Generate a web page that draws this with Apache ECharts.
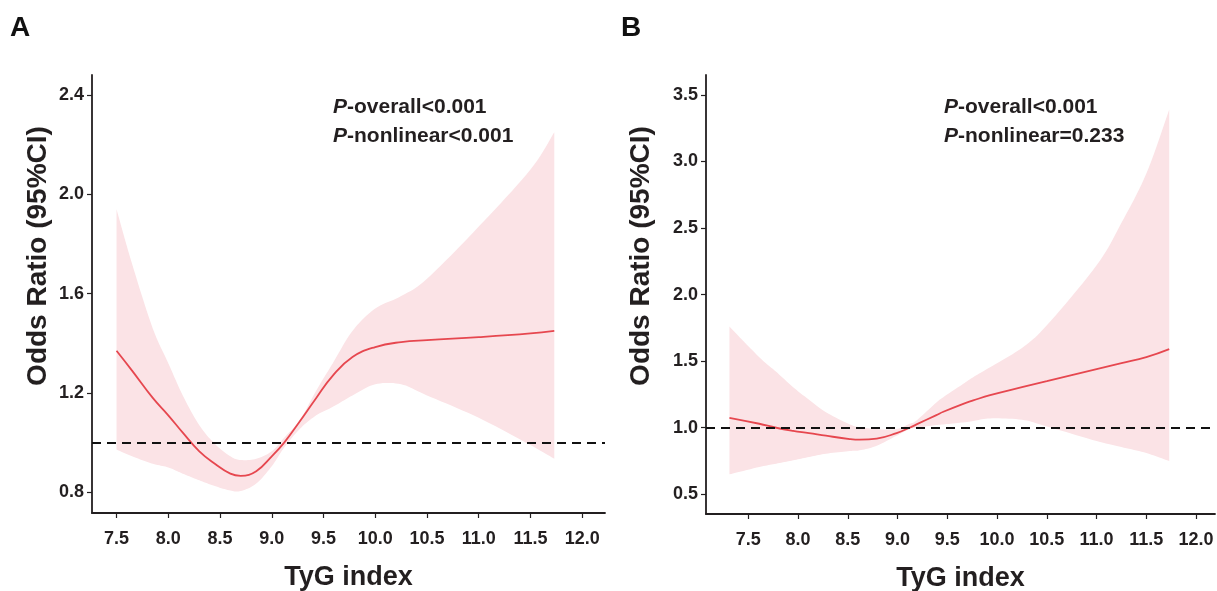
<!DOCTYPE html>
<html>
<head>
<meta charset="utf-8">
<script src="https://cdn.jsdelivr.net/npm/echarts@6/dist/echarts.min.js"></script>
<style>
  html, body { margin: 0; padding: 0; background: #fff; }
  #main { width: 1217px; height: 591px; }
</style>
</head>
<body>
<div id="main"></div>
<script>
// panel A: TyG index vs odds ratio
var xA = [7.5, 7.65, 7.85, 8.0, 8.14, 8.3, 8.45, 8.6, 8.7, 8.85, 9.0, 9.12, 9.27, 9.43, 9.59, 9.78, 10.0, 10.25, 10.5, 11.0, 11.5, 11.73];
var orA = [1.37, 1.29, 1.18, 1.11, 1.04, 0.965, 0.915, 0.875, 0.866, 0.885, 0.945, 1.0, 1.085, 1.18, 1.27, 1.345, 1.385, 1.405, 1.413, 1.425, 1.44, 1.45];
var upA = [1.94, 1.72, 1.46, 1.32, 1.19, 1.07, 0.995, 0.945, 0.93, 0.935, 0.965, 1.02, 1.09, 1.21, 1.32, 1.45, 1.54, 1.59, 1.66, 1.87, 2.10, 2.25];
var loA = [0.972, 0.945, 0.915, 0.9, 0.875, 0.848, 0.825, 0.807, 0.805, 0.835, 0.905, 0.98, 1.055, 1.11, 1.144, 1.19, 1.235, 1.235, 1.19, 1.1, 0.99, 0.935];

// panel B
var xB = [7.31, 7.61, 7.78, 7.95, 8.11, 8.28, 8.52, 8.62, 8.79, 8.99, 9.12, 9.19, 9.39, 9.46, 9.66, 9.76, 9.93, 10.25, 10.5, 11.0, 11.25, 11.5, 11.73];
var orB = [1.075, 1.03, 1.0, 0.977, 0.96, 0.94, 0.915, 0.91, 0.918, 0.96, 1.0, 1.025, 1.095, 1.12, 1.18, 1.205, 1.245, 1.305, 1.35, 1.44, 1.485, 1.53, 1.59];
var upB = [1.76, 1.53, 1.42, 1.305, 1.21, 1.117, 1.025, 1.005, 0.99, 0.99, 1.03, 1.055, 1.19, 1.23, 1.33, 1.38, 1.455, 1.6, 1.77, 2.22, 2.54, 2.91, 3.39];
var loB = [0.65, 0.705, 0.73, 0.755, 0.78, 0.805, 0.825, 0.83, 0.865, 0.94, 0.99, 1.0, 1.02, 1.025, 1.04, 1.05, 1.07, 1.06, 1.01, 0.9, 0.855, 0.81, 0.75];

var xTicks = [7.5, 8.0, 8.5, 9.0, 9.5, 10.0, 10.5, 11.0, 11.5, 12.0];
var yTicksA = [0.8, 1.2, 1.6, 2.0, 2.4];
var yTicksB = [0.5, 1.0, 1.5, 2.0, 2.5, 3.0, 3.5];

var font = 'Liberation Sans, Arial, sans-serif';
var ink = '#231f20';
var red = '#e6474f';
var pink = '#fbe3e6';

function pairs(xs, ys) {
    return xs.map(function (x, i) { return [x, ys[i]]; });
}

// catmull-rom through pixel points, so the band edges are smooth like the line
function spline(pts) {
    var out = [pts[0]];
    for (var i = 0; i < pts.length - 1; i++) {
        var p0 = pts[i - 1] || pts[i], p1 = pts[i], p2 = pts[i + 1], p3 = pts[i + 2] || pts[i + 1];
        for (var k = 1; k <= 10; k++) {
            var t = k / 10, t2 = t * t, t3 = t2 * t;
            var pt = [0, 1].map(function (d) {
                return 0.5 * ((2 * p1[d]) + (-p0[d] + p2[d]) * t +
                    (2 * p0[d] - 5 * p1[d] + 4 * p2[d] - p3[d]) * t2 +
                    (-p0[d] + 3 * p1[d] - 3 * p2[d] + p3[d]) * t3);
            });
            out.push(pt);
        }
    }
    return out;
}

function bandRender(xs, up, lo) {
    return function (params, api) {
        if (params.dataIndex !== 0) return;
        var top = xs.map(function (x, i) { return api.coord([x, up[i]]); });
        var bot = xs.map(function (x, i) { return api.coord([x, lo[i]]); }).reverse();
        return {
            type: 'polygon',
            shape: { points: spline(top).concat(spline(bot)) },
            style: { fill: pink }
        };
    };
}

function xAxisOf(idx, min, max) {
    return {
        type: 'value', gridIndex: idx, min: min, max: max,
        name: 'TyG index', nameLocation: 'middle', nameGap: 51,
        nameTextStyle: { fontFamily: font, fontWeight: 'bold', fontSize: 27, color: ink },
        axisLine: { show: true, onZero: false, lineStyle: { color: ink, width: 1.8 } },
        axisTick: { show: true, length: 5, customValues: xTicks, lineStyle: { color: ink, width: 1.2 } },
        axisLabel: {
            customValues: xTicks, margin: 17,
            fontFamily: font, fontWeight: 'bold', fontSize: 18, color: ink,
            formatter: function (v) { return v.toFixed(1); }
        },
        splitLine: { show: false }
    };
}
function yAxisOf(idx, min, max, ticks) {
    return {
        type: 'value', gridIndex: idx, min: min, max: max,
        axisLine: { show: true, lineStyle: { color: ink, width: 1.8 } },
        axisTick: { show: true, length: 5, customValues: ticks, lineStyle: { color: ink, width: 1.2 } },
        axisLabel: {
            customValues: ticks, margin: 8,
            fontFamily: font, fontWeight: 'bold', fontSize: 18, color: ink,
            formatter: function (v) { return v.toFixed(1); }
        },
        splitLine: { show: false }
    };
}
function panelSeries(idx, xs, up, lo, mid) {
    return [{
        type: 'custom', xAxisIndex: idx, yAxisIndex: idx,
        data: pairs(xs, mid), renderItem: bandRender(xs, up, lo), silent: true, z: 1
    }, {
        type: 'line', xAxisIndex: idx, yAxisIndex: idx,
        data: pairs(xs, mid), smooth: 0.45, symbol: 'none', z: 4,
        lineStyle: { color: red, width: 1.8 },
        markLine: {
            silent: true, symbol: 'none', label: { show: false },
            lineStyle: { color: '#111', type: [9, 6], width: 1.8 },
            data: [{ yAxis: 1 }]
        }
    }];
}
function pText(x, y, rest) {
    return {
        type: 'text', left: x, top: y,
        style: {
            text: '{i|P}{n|' + rest + '}',
            rich: {
                i: { fontFamily: font, fontWeight: 'bold', fontStyle: 'italic', fontSize: 21, color: ink },
                n: { fontFamily: font, fontWeight: 'bold', fontSize: 21, color: ink }
            },
            fontFamily: font, fontWeight: 'bold', fontSize: 21, fill: ink
        }
    };
}

var chart = echarts.init(document.getElementById('main'));
var option = {
    animation: false,
    backgroundColor: '#fff',
    grid: [
        { left: 92, top: 75, width: 513, height: 438, outerBoundsMode: 'none' },
        { left: 706, top: 75, width: 509, height: 439, outerBoundsMode: 'none' }
    ],
    xAxis: [xAxisOf(0, 7.263, 12.22), xAxisOf(1, 7.0745, 12.19)],
    yAxis: [yAxisOf(0, 0.7166, 2.4805, yTicksA), yAxisOf(1, 0.352, 3.65, yTicksB)],
    series: panelSeries(0, xA, upA, loA, orA).concat(panelSeries(1, xB, upB, loB, orB)),
    graphic: [
        { type: 'text', left: 10, top: 14, style: { text: 'A', fontFamily: font, fontWeight: 'bold', fontSize: 28, fill: '#111' } },
        { type: 'text', left: 621, top: 14, style: { text: 'B', fontFamily: font, fontWeight: 'bold', fontSize: 28, fill: '#111' } },
        {
            type: 'text', x: 38, y: 256, rotation: Math.PI / 2,
            style: { text: 'Odds Ratio (95%CI)', fontFamily: font, fontWeight: 'bold', fontSize: 28, fill: ink, align: 'center', verticalAlign: 'middle' }
        },
        {
            type: 'text', x: 641, y: 256, rotation: Math.PI / 2,
            style: { text: 'Odds Ratio (95%CI)', fontFamily: font, fontWeight: 'bold', fontSize: 28, fill: ink, align: 'center', verticalAlign: 'middle' }
        },
        pText(333, 97, '-overall<0.001'),
        pText(333, 126, '-nonlinear<0.001'),
        pText(944, 97, '-overall<0.001'),
        pText(944, 126, '-nonlinear=0.233')
    ]
};
chart.setOption(option);
</script>
</body>
</html>
